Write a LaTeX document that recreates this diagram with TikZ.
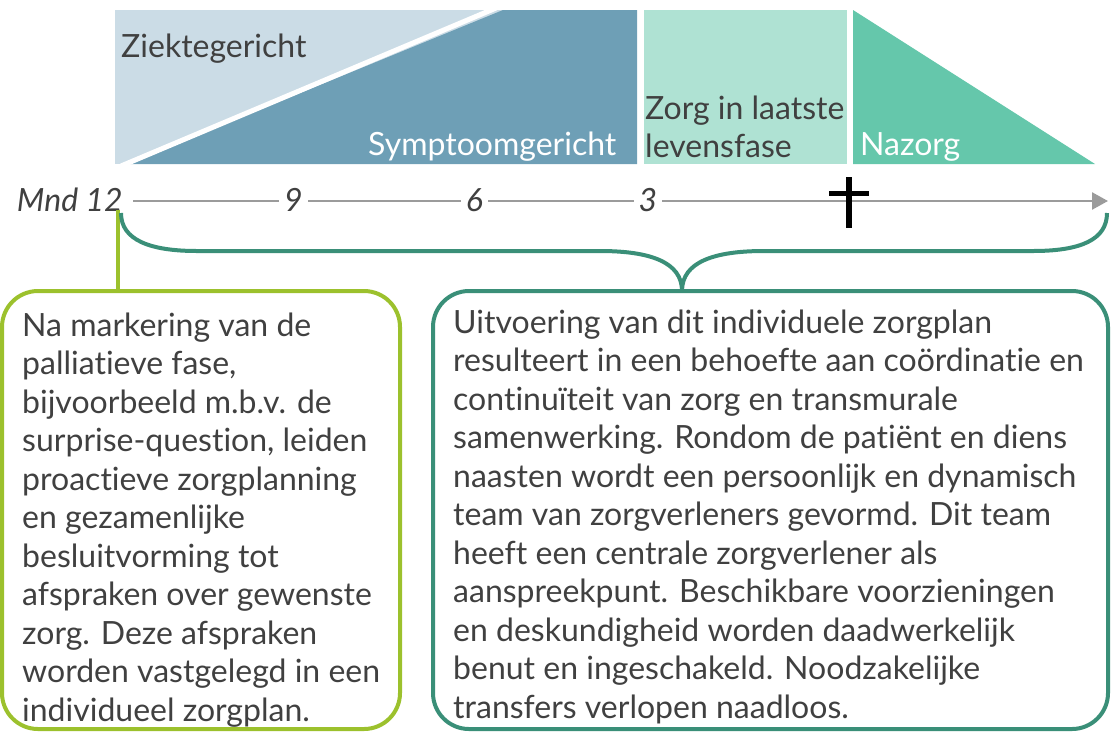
\documentclass[tikz,border=0pt]{standalone}
\usepackage{fontspec}
\setmainfont{Lato}[Ligatures = NoCommon]
\usetikzlibrary{
    arrows.meta,
    positioning,
    calc
}
\definecolor{ziekte}{HTML}{CBDCE6}
\definecolor{symptoom}{HTML}{6E9FB6}
\definecolor{laatste}{HTML}{AFE2D3}
\definecolor{nazorg}{HTML}{65C7AB}
\definecolor{tekst}{HTML}{404040}
\definecolor{asgrijs}{HTML}{9B9B9B}
\definecolor{limoen}{HTML}{9CC12D}
\definecolor{zeegroen}{HTML}{3A8F78}
\tikzset {
    phase label/.style = {font = \fontsize{32}{38}\selectfont, inner sep = 0pt, anchor = base west},
    month/.style = {font = \fontsize{32}{32}\selectfont\itshape, text = tekst, fill = white, inner xsep = 5pt, inner ysep = 0pt, anchor = base},
    axis line/.style = {asgrijs, line width = 2.5pt, -{Triangle[length = 16pt, width = 17pt]}},
    card/.style = {draw, line width = 4pt, rounded corners = 36pt, inner sep = 0pt, outer sep = 0pt, minimum height = 438pt},
    card text/.style = {font = \fontsize{32}{38.5}\selectfont, text = tekst, inner sep = 0pt, anchor = base west},
    brace/.style = {zeegroen, line width = 4pt},
    death/.style = {black, line width = 6.5pt}
}
\begin{document}
\begin{tikzpicture}[x = 1pt, y = -1pt]
            \useasboundingbox (0, 0) rectangle (1113, 732);
            % fases
            \coordinate (zl) at (115, 10);
            \coordinate (sr) at (637, 164);
            \fill [ziekte] (zl) rectangle (sr);
            \fill [symptoom] (127, 164) -- (503, 10) -- (sr |- zl) -- (sr) -- cycle;
            \draw [white, line width = 5pt] (121, 166) -- (496, 8);
            \fill [laatste] (644, 10) rectangle (847, 164);
            \fill [nazorg] (853, 10) -- (1095, 164) -- (853, 164) -- cycle;
            \node (ziekte) [phase label, text = tekst] at (121, 57) {Ziektegericht};
            \node (symptoom) [phase label, text = white] at (368, 155) {Symptoomgericht};
            \node (laatste) [phase label, text = tekst] at (645, 119) {\parbox[t]{260pt}{\raggedright Zorg in laatste\\levensfase}};
            \node (nazorg) [phase label, text = white] at (860, 155) {Nazorg};
            % tijdas
            \coordinate (as begin) at (133, 201);
            \coordinate (as end) at (1108, 201);
            \draw [axis line] (as begin) -- (as end);
            \node (mnd) [month, anchor = base east, fill = none, inner xsep = 0pt] at (123, 211) {Mnd 12};
            \node (m9) [month] at (293.5, 211) {9};
            \node (m6) [month] at (474.5, 211) {6};
            \node (m3) [month] at (648, 211) {3};
            \coordinate (dood) at (849, 193);
            \draw [death] ($ (dood) + (0, -16) $) -- ($ (dood) + (0, 35) $);
            \draw [death, line width = 5pt] ($ (dood) + (-20, 0) $) -- ($ (dood) + (20, 0) $);
            % kaders
            \node (lbox) [card, draw = limoen, minimum width = 398pt] at (201, 510) {};
            \node (rbox) [card, draw = zeegroen, minimum width = 675pt] at (770.5, 510) {};
            \coordinate (m12 foot) at (118, 210);
            \draw [limoen, line width = 3.5pt] (m12 foot) -- (m12 foot |- lbox.north);
            \coordinate (brace left) at (121, 213);
            \coordinate (brace right) at (1107, 213);
            \coordinate (brace tip) at ($ (rbox.north west) + (249, 0) $);
            \draw [brace] (brace left) .. controls (121, 240) and (150, 251) .. (197, 251) -- (600, 251)
                .. controls (650, 251) and (682, 262) .. (brace tip);
            \draw [brace] (brace tip) .. controls (682, 262) and (714, 251) .. (764, 251) -- (1033, 251)
                .. controls (1080, 251) and (1107, 240) .. (brace right);
            \node (ltext) [card text] at (22, 336) {\parbox[t]{380pt}{\raggedright
                Na markering van de\\
                palliatieve fase,\\
                bijvoorbeeld m.b.v. de\\
                surprise-question, leiden\\
                proactieve zorgplanning\\
                en gezamenlijke\\
                besluitvorming tot\\
                afspraken over gewenste\\
                zorg. Deze afspraken\\
                worden vastgelegd in een\\
                individueel zorgplan.}};
            \node (rtext) [card text] at (453, 333) {\parbox[t]{650pt}{\raggedright
                Uitvoering van dit individuele zorgplan\\
                resulteert in een behoefte aan coördinatie en\\
                continuïteit van zorg en transmurale\\
                samenwerking. Rondom de patiënt en diens\\
                naasten wordt een persoonlijk en dynamisch\\
                team van zorgverleners gevormd. Dit team\\
                heeft een centrale zorgverlener als\\
                aanspreekpunt. Beschikbare voorzieningen\\
                en deskundigheid worden daadwerkelijk\\
                benut en ingeschakeld. Noodzakelijke\\
                transfers verlopen naadloos.}};
\end{tikzpicture}
\end{document}
